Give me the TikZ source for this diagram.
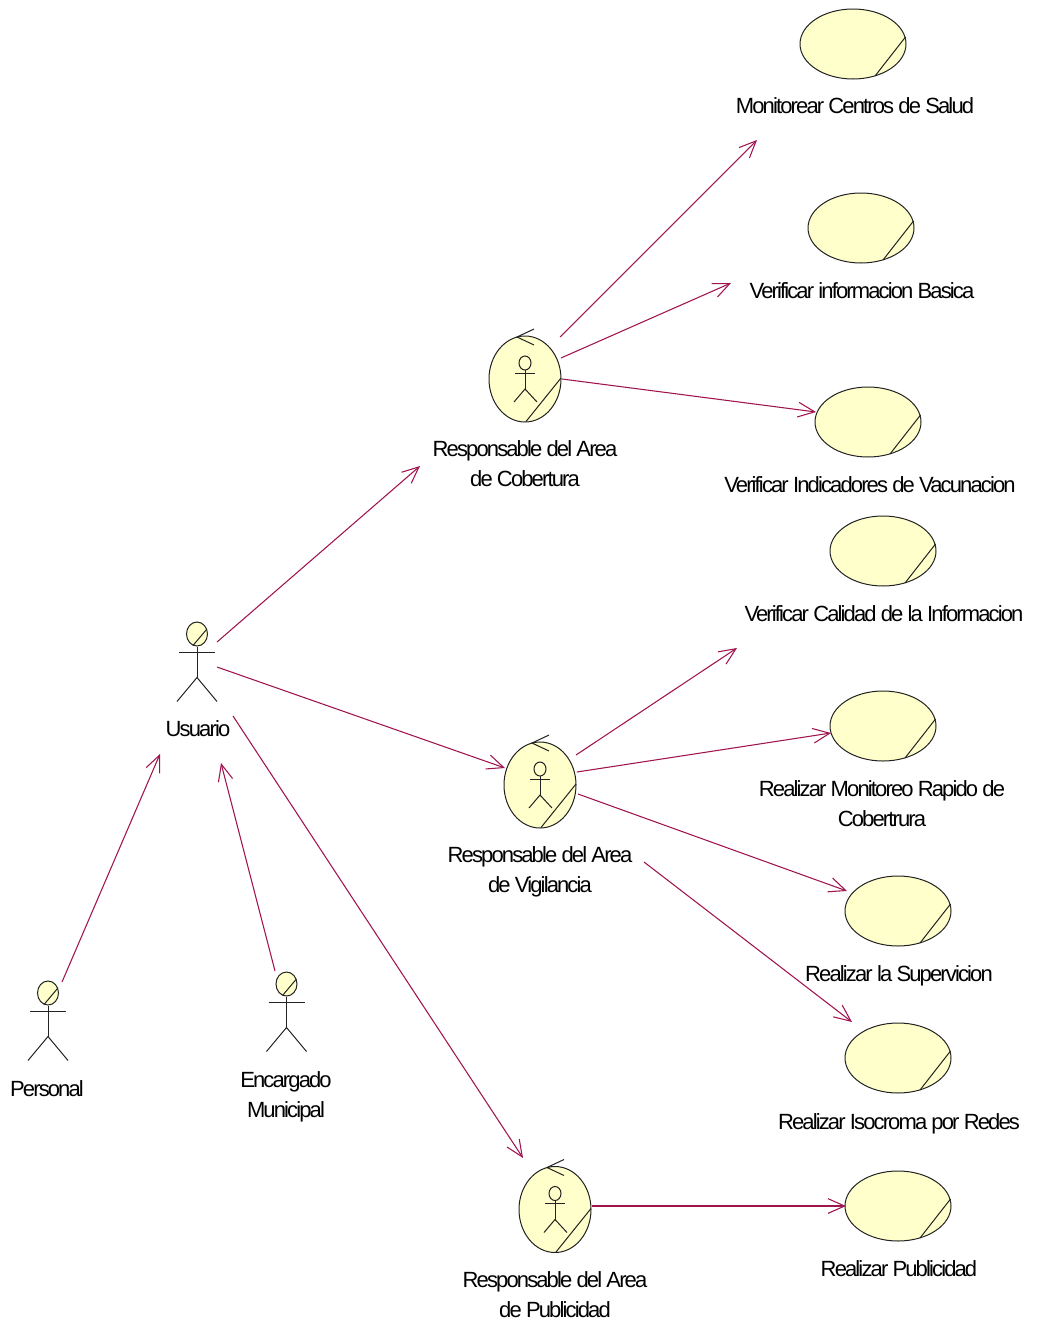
\documentclass[tikz,border=0pt]{standalone}
\usepackage{fontspec}
\setmainfont{Liberation Sans}
\newfontfamily\lblfont[LetterSpace=-8.5]{Liberation Sans}
\usetikzlibrary{arrows.meta,shapes.geometric,calc}
\definecolor{ucfill}{HTML}{FFFFCB}
\definecolor{linkc}{HTML}{A0144F}
\definecolor{inkc}{HTML}{222222}
\newcommand{\lstrut}{\rule[-5.6pt]{0pt}{22.5pt}}
\tikzset{
  ucshape/.style={draw=inkc,fill=ucfill,ellipse,line width=.75pt,inner sep=0pt,minimum width=79.5pt,minimum height=52.5pt},
  bdshape/.style={draw=inkc,fill=ucfill,ellipse,line width=.75pt,inner sep=0pt,minimum width=54pt,minimum height=64.5pt},
  headshape/.style={draw=inkc,fill=ucfill,ellipse,line width=.75pt,inner sep=0pt,minimum width=15.75pt,minimum height=18pt},
  lbl/.style={inner sep=0pt,align=center,text=black,font=\lblfont\fontsize{16.5}{22.5}\selectfont},
  figline/.style={draw=inkc,line width=.75pt},
  link/.style={draw=linkc,line width=.8pt,-{Straight Barb[length=12.5pt,width=11pt,line width=.8pt]}}
}
% use case: name, x, y
\newcommand{\usecase}[3]{%
  \node[ucshape] (#1) at (#2,#3) {};
  \draw[figline] ($(#1.center)+(22,32)$) -- ($(#1.center)+(52.5,-7)$);
}
% boundary: name, x, y
\newcommand{\boundary}[3]{%
  \node[bdshape] (#1) at (#2,#3) {};
  \draw[figline] ($(#1.center)+(1,42.5)$) -- ($(#1.center)+(36,-1)$);
  \draw[figline] ($(#1.center)+(9,-50)$) -- ($(#1.center)+(-8,-42)$) -- ($(#1.center)+(9,-34)$);
  \draw[figline,fill=ucfill] ($(#1.center)+(0,-16)$) ellipse [x radius=6,y radius=7];
  \draw[figline] ($(#1.center)+(0,-9)$) -- ($(#1.center)+(0,10)$);
  \draw[figline] ($(#1.center)+(-10,-6)$) -- ($(#1.center)+(10,-6)$);
  \draw[figline] ($(#1.center)+(-11,23)$) -- ($(#1.center)+(0,10)$) -- ($(#1.center)+(12,23)$);
}
% actor: name, x, head y
\newcommand{\actorfig}[3]{%
  \node[headshape] (#1) at (#2,#3) {};
  \draw[figline] ($(#1.center)+(-4,11.5)$) -- ($(#1.center)+(9.5,-4.5)$);
  \draw[figline] (#1.south) -- ($(#1.center)+(0,43.5)$);
  \draw[figline] ($(#1.center)+(-18,18.5)$) -- ($(#1.center)+(18,18.5)$);
  \draw[figline] ($(#1.center)+(-20,67.5)$) -- ($(#1.center)+(0,43.5)$) -- ($(#1.center)+(20,67.5)$);
}
\begin{document}
\begin{tikzpicture}[x=.75pt,y=-.75pt]
\useasboundingbox (0,0) rectangle (1036,1324);

\usecase{ua}{853}{44}
\usecase{ub}{861}{228}
\usecase{uc}{868}{422}
\usecase{ud}{883}{551}
\usecase{ue}{883}{726}
\usecase{uf}{898}{911}
\usecase{ug}{898}{1058}
\usecase{uh}{898}{1206}

\boundary{rc}{525}{379}
\boundary{rv}{540}{785}
\boundary{rp}{555}{1209.5}

\actorfig{au}{197}{634}
\actorfig{ap}{48}{993}
\actorfig{ae}{286.5}{984}

\node[lbl] (la) at (855,106) {\lstrut Monitorear Centros de Salud};
\node[lbl] (lb) at (862,291) {\lstrut Verificar informacion Basica};
\node[lbl] (lc) at (870,485) {\lstrut Verificar Indicadores de Vacunacion};
\node[lbl] (ld) at (884,614) {\lstrut Verificar Calidad de la Informacion};
\node[lbl] (le) at (882,804) {\lstrut Realizar Monitoreo Rapido de\\\lstrut Cobertrura};
\node[lbl] (lf) at (899,974) {\lstrut Realizar la Supervicion};
\node[lbl] (lg) at (899,1122) {\lstrut Realizar Isocroma por Redes};
\node[lbl] (lh) at (899,1269) {\lstrut Realizar Publicidad};
\node[lbl] (lrc) at (525,464) {\lstrut Responsable del Area\\\lstrut de Cobertura};
\node[lbl] (lrv) at (540,870) {\lstrut Responsable del Area\\\lstrut de Vigilancia};
\node[lbl] (lrp) at (555,1295) {\lstrut Responsable del Area\\\lstrut de Publicidad};
\node[lbl] (lau) at (198,729) {\lstrut Usuario};
\node[lbl] (lap) at (47,1089) {\lstrut Personal};
\node[lbl] (lae) at (286,1095) {\lstrut Encargado\\\lstrut Municipal};

% free ends of the connectors
\coordinate (s1) at (62,982);    \coordinate (e1) at (160,754);
\coordinate (s2) at (275,971);   \coordinate (e2) at (221,763);
\coordinate (s3) at (217,642);   \coordinate (e3) at (420,466);
\coordinate (s4) at (217,667);   \coordinate (e4) at (505,768);
\coordinate (s5) at (233,716);   \coordinate (e5) at (523,1158);
\coordinate (s6) at (560,337);   \coordinate (e6) at (757,140);
\coordinate (s7) at (561,358);   \coordinate (e7) at (731,283);
\coordinate (s8) at (562,379);   \coordinate (e8) at (816,412);
\coordinate (s9) at (576,755);   \coordinate (e9) at (737,648);
\coordinate (s10) at (577,772);  \coordinate (e10) at (831,733);
\coordinate (s11) at (578,794);  \coordinate (e11) at (847,891);
\coordinate (s12) at (644,862);  \coordinate (e12) at (852,1022);
\coordinate (s13) at (592,1206); \coordinate (e13) at (846,1206);

\foreach \i in {1,...,13} { \draw[link] (s\i) -- (e\i); }
\end{tikzpicture}
\end{document}
